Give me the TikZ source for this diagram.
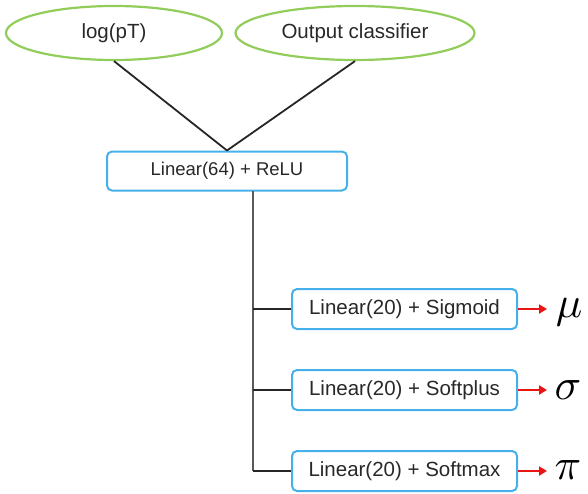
\documentclass[tikz,border=0pt]{standalone}
\usepackage{fontspec}
\usepackage{graphicx}
\setmainfont{Liberation Sans}
\usetikzlibrary{shapes.geometric,arrows.meta}
\definecolor{ellgreen}{RGB}{146,204,90}
\definecolor{boxblue}{RGB}{70,176,235}
\definecolor{txt}{RGB}{40,40,40}
\definecolor{arrred}{RGB}{235,20,20}
\tikzset{
  inell/.style={ellipse,draw=ellgreen,line width=2.2pt,text=txt,font=\fontsize{20.5}{22}\selectfont},
  lbox/.style={draw=boxblue,line width=2pt,rounded corners=5pt,text=txt,inner sep=0pt,font=\fontsize{20.5}{22}\selectfont},
  conn/.style={line width=1.8pt,black!85},
  branch/.style={line width=2.2pt,black!85},
  trunk/.style={line width=1.1pt,black!65},
  outarr/.style={line width=2.4pt,arrred,-{Triangle[length=8pt,width=9pt]}},
  greek/.style={inner sep=0pt}
}
\begin{document}
\begin{tikzpicture}[x=1pt,y=-1pt]
\useasboundingbox (0,0) rectangle (588,493);
\node[inell,minimum width=216pt,minimum height=54pt] (e1) at (114,33) {log(pT)};
\node[inell,minimum width=239pt,minimum height=54pt] (e2) at (355,33) {Output classifier};
\node[lbox,minimum width=240pt,minimum height=39pt,font=\fontsize{18.5}{20}\selectfont] (b64) at (227,171) {Linear(64) + ReLU};
\node[lbox,minimum width=225pt,minimum height=40pt] (s1) at (404.5,309) {Linear(20) + Sigmoid};
\node[lbox,minimum width=225pt,minimum height=40pt] (s2) at (404.5,390) {Linear(20) + Softplus};
\node[lbox,minimum width=225pt,minimum height=40pt] (s3) at (404.5,471) {Linear(20) + Softmax};
\draw[conn] (e1.south) -- (b64.north);
\draw[conn] (e2.south) -- (b64.north);
\coordinate (top) at (253,191);
\coordinate (bot) at (253,471);
\draw[trunk] (top) -- (bot);
\draw[branch] (s1.west -| top) -- (s1.west);
\draw[branch] (s2.west -| top) -- (s2.west);
\draw[branch] (bot) -- (s3.west);
\node[greek] (mu) at (569,312) {\scalebox{4.4}{$\mu$}};
\node[greek] (sig) at (568,390) {\scalebox{4.4}{$\sigma$}};
\node[greek] (pi) at (568,470) {\scalebox{4.4}{$\pi$}};
\draw[outarr] (s1.east) -- (547,309);
\draw[outarr] (s2.east) -- (547,390);
\draw[outarr] (s3.east) -- (547,471);
\end{tikzpicture}
\end{document}
